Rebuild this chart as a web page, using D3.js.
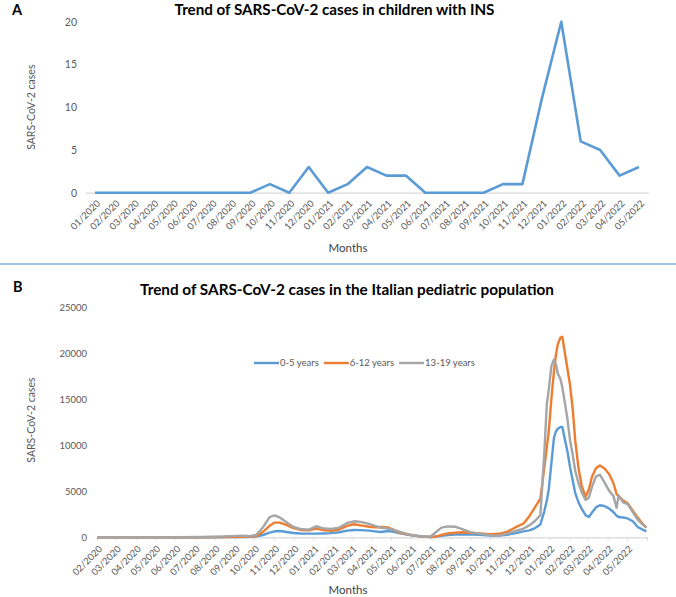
<!DOCTYPE html>
<html><head><meta charset="utf-8">
<script src="https://cdn.jsdelivr.net/npm/d3@7"></script>
<style>
body{margin:0;background:#fff}
svg{display:block}
text{font-family:Lato,"Open Sans",sans-serif}
</style>
</head><body>
<svg id="c" width="676" height="597"></svg>
<script>
// ---------- Panel A data ----------
const monthsA = ["01/2020","02/2020","03/2020","04/2020","05/2020","06/2020","07/2020","08/2020","09/2020","10/2020","11/2020","12/2020",
  "01/2021","02/2021","03/2021","04/2021","05/2021","06/2021","07/2021","08/2021","09/2021","10/2021","11/2021","12/2021",
  "01/2022","02/2022","03/2022","04/2022","05/2022"];
const casesINS = [0,0,0,0,0,0,0,0,0,1,0,3, 0,1,3,2,2,0,0,0,0,1,1,11, 20,6,5,2,3];
const yTicksA = [0,5,10,15,20];

// ---------- Panel B data ----------
const monthsB = ["02/2020","03/2020","04/2020","05/2020","06/2020","07/2020","08/2020","09/2020","10/2020","11/2020","12/2020",
  "01/2021","02/2021","03/2021","04/2021","05/2021","06/2021","07/2021","08/2021","09/2021","10/2021","11/2021","12/2021",
  "01/2022","02/2022","03/2022","04/2022","05/2022"];
const yTicksB = [0,5000,10000,15000,20000,25000];
const seriesNames = ["0-5 years","6-12 years","13-19 years"];
const seriesColors = ["#5b9bd5","#ed7d31","#a5a5a5"];
const datesB = ["2020-02-01","2020-04-01","2020-06-01","2020-07-15","2020-08-15","2020-09-05","2020-09-15","2020-09-25",
  "2020-10-05","2020-10-15","2020-10-25","2020-11-02","2020-11-10","2020-11-20","2020-12-01","2020-12-12","2020-12-25",
  "2021-01-05","2021-01-15","2021-01-28","2021-02-10","2021-02-22","2021-03-05","2021-03-15","2021-03-28","2021-04-06",
  "2021-04-15","2021-04-26","2021-05-05","2021-05-15","2021-05-30","2021-06-15","2021-07-01","2021-07-10","2021-07-18",
  "2021-07-28","2021-08-08","2021-08-20","2021-09-01","2021-09-15","2021-10-01","2021-10-15","2021-10-28","2021-11-10",
  "2021-11-22","2021-12-01","2021-12-10","2021-12-18","2021-12-24","2021-12-28","2021-12-31","2022-01-04","2022-01-08",
  "2022-01-11","2022-01-14","2022-01-18","2022-01-21","2022-01-25","2022-01-29","2022-02-02","2022-02-06","2022-02-10",
  "2022-02-15","2022-02-20","2022-02-26","2022-03-03","2022-03-08","2022-03-14","2022-03-20","2022-03-27","2022-04-03",
  "2022-04-10","2022-04-15","2022-04-18","2022-04-25","2022-05-02","2022-05-10","2022-05-18","2022-05-25","2022-05-31"];
const cases0to5 = [0,0,0,5,20,30,40,50,
  100,250,500,650,680,580,470,420,400,
  400,420,450,550,720,800,780,720,650,
  580,690,600,420,250,100,40,80,150,
  250,300,320,310,280,200,180,280,450,
  650,750,1000,1400,2800,4000,5200,8000,10800,
  11500,11800,12000,12000,10600,9300,7600,6200,4800,
  3800,3100,2400,2200,2700,3250,3480,3400,3150,
  2750,2350,2200,2150,2050,1750,1100,850,650];
const cases6to12 = [0,0,0,10,30,50,60,70,
  150,600,1250,1600,1600,1350,1000,800,750,
  950,800,700,850,1250,1420,1300,1150,1080,
  1120,1080,800,480,280,100,40,100,250,
  420,500,550,480,430,350,380,600,1100,
  1500,2300,3300,4200,7500,9800,11500,15000,18000,
  19800,21000,21700,21800,20000,18300,16500,14000,10500,
  7500,5600,4400,5200,6600,7500,7800,7500,6900,
  5900,4700,4500,4000,3700,2900,2100,1500,1050];
const cases13to19 = [0,0,10,30,80,150,170,120,
  300,1100,2200,2380,2150,1650,1120,900,830,
  1200,1000,900,1050,1550,1740,1680,1450,1250,
  1050,950,800,580,280,120,60,600,1050,
  1180,1150,850,560,400,220,200,400,700,
  950,1300,1800,2400,9000,14500,16000,18600,19300,
  18800,17800,17200,16300,14600,12800,10500,9000,7200,
  5900,4900,4050,4300,5500,6600,6800,6000,5100,
  4500,3200,4500,3800,3600,2750,1900,1400,1050];

const svg = d3.select("#c");
const tickCol = "#595959", axisCol = "#d9d9d9", labelCol = "#404040";

function fitText(sel, w){
  const n = sel.node().getComputedTextLength();
  const fs = parseFloat(sel.attr("font-size"));
  sel.attr("font-size", (fs*w/n).toFixed(2));
}

// ================= Panel A =================
svg.append("text").attr("x",12).attr("y",14.5).attr("font-size",14.5).attr("font-weight","bold").attr("fill","#000").text("A");
const tA = svg.append("text").attr("x",334.5).attr("y",15).attr("text-anchor","middle").attr("font-size",14)
  .attr("font-weight","bold").attr("fill","#000").text("Trend of SARS-CoV-2 cases in children with INS");
fitText(tA, 320);

const xA = d3.scalePoint().domain(monthsA).range([85.3,648.7]).padding(0.5);
const yA = d3.scaleLinear().domain([0,20]).range([192.7,21.7]);

const gyA = svg.append("g").attr("transform","translate(80,0)")
  .call(d3.axisLeft(yA).tickValues(yTicksA).tickSize(0).tickPadding(3));
gyA.select(".domain").remove();
gyA.selectAll("text").attr("fill",tickCol).attr("font-size",10.5).style("font-family","Lato");

const gxA = svg.append("g").attr("transform",`translate(0,${yA(0)})`)
  .call(d3.axisBottom(xA).tickSize(0));
gxA.select(".domain").attr("stroke",axisCol).attr("stroke-width",1.2);
gxA.selectAll("text").attr("x",0).attr("y",0).attr("dy","0.35em")
  .attr("transform","translate(3,9) rotate(-45)").style("text-anchor","end")
  .attr("fill",tickCol).attr("font-size",9.5).style("font-family","Lato");

svg.append("path").datum(casesINS)
  .attr("fill","none").attr("stroke","#5b9bd5").attr("stroke-width",2.6).attr("stroke-linejoin","round")
  .attr("d", d3.line().x((d,i)=>xA(monthsA[i])).y(d=>yA(d)));

svg.append("text").attr("transform",`translate(35,${(yA(0)+yA(20))/2}) rotate(-90)`).attr("text-anchor","middle")
  .attr("font-size",10.5).attr("fill",tickCol).text("SARS-CoV-2 cases");
svg.append("text").attr("x",348).attr("y",252).attr("text-anchor","middle").attr("font-size",11.5).attr("fill",labelCol).text("Months");

// separator
svg.append("line").attr("x1",0).attr("x2",676).attr("y1",264).attr("y2",264).attr("stroke","#7fb0dd").attr("stroke-width",1.5);

// ================= Panel B =================
svg.append("text").attr("x",13).attr("y",292).attr("font-size",14.5).attr("font-weight","bold").attr("fill","#000").text("B");
const tB = svg.append("text").attr("x",347).attr("y",295).attr("text-anchor","middle").attr("font-size",14)
  .attr("font-weight","bold").attr("fill","#000").text("Trend of SARS-CoV-2 cases in the Italian pediatric population");
fitText(tB, 414);

const parse = d3.timeParse("%Y-%m-%d");
const startB = parse("2020-02-01"), endB = parse("2022-06-01");
const xB = d3.scaleTime().domain([startB,endB]).range([97,647]);
const yB = d3.scaleLinear().domain([0,25000]).range([537.3,307.3]);

const gyB = svg.append("g").attr("transform","translate(90,0)")
  .call(d3.axisLeft(yB).tickValues(yTicksB).tickSize(0).tickPadding(3).tickFormat(d3.format("d")));
gyB.select(".domain").remove();
gyB.selectAll("text").attr("fill",tickCol).attr("font-size",9.5).style("font-family","Lato");

const monthTicks = d3.timeMonth.range(startB, d3.timeDay.offset(endB,1));
const gxB = svg.append("g").attr("transform",`translate(0,${yB(0)})`)
  .call(d3.axisBottom(xB).tickValues(monthTicks).tickSize(3).tickFormat((d,i)=>monthsB[i]||""));
gxB.select(".domain").attr("stroke",axisCol).attr("stroke-width",1.2);
gxB.selectAll("line").attr("stroke",axisCol);
gxB.selectAll("text").attr("x",0).attr("y",0).attr("dy","0.35em")
  .attr("transform","translate(3,10) rotate(-45)").style("text-anchor","end")
  .attr("fill",tickCol).attr("font-size",9.5).style("font-family","Lato");

const dB = datesB.map(parse);
const seriesB = [cases0to5, cases6to12, cases13to19];
const lineB = d3.line().x((d,i)=>xB(dB[i])).y(d=>yB(d));
seriesB.forEach((s,k)=>{
  svg.append("path").datum(s).attr("fill","none").attr("stroke",seriesColors[k]).attr("stroke-width",2.4)
    .attr("stroke-linejoin","round").attr("d", lineB);
});

svg.append("text").attr("transform",`translate(35,420) rotate(-90)`).attr("text-anchor","middle")
  .attr("font-size",10.5).attr("fill",tickCol).text("SARS-CoV-2 cases");
svg.append("text").attr("x",348).attr("y",594).attr("text-anchor","middle").attr("font-size",11.5).attr("fill",labelCol).text("Months");

// legend
const leg = svg.append("g").attr("transform","translate(254,363)");
let lx = 0;
seriesNames.forEach((n,k)=>{
  leg.append("line").attr("x1",lx).attr("x2",lx+25).attr("y1",0).attr("y2",0).attr("stroke",seriesColors[k]).attr("stroke-width",2.4);
  const t = leg.append("text").attr("x",lx+26).attr("y",0).attr("dy","0.35em").attr("font-size",9.5).attr("fill",tickCol).text(n);
  lx += 26 + t.node().getComputedTextLength() + 5;
});
</script>
</body></html>
